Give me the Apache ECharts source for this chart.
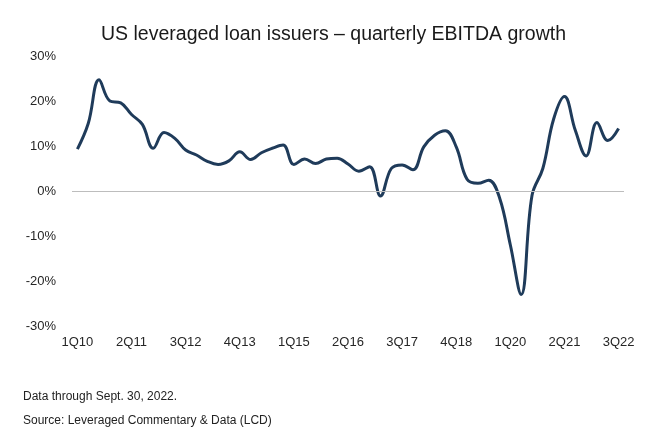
<!DOCTYPE html>
<html>
<head>
<meta charset="utf-8">
<script src="https://cdn.jsdelivr.net/npm/echarts@6/dist/echarts.min.js"></script>
<style>
html,body{margin:0;padding:0;background:#fff;}
#chart{width:667px;height:438px;}
</style>
</head>
<body>
<div id="chart"></div>
<script>
var quarters = [
  "1Q10","2Q10","3Q10","4Q10",
  "1Q11","2Q11","3Q11","4Q11",
  "1Q12","2Q12","3Q12","4Q12",
  "1Q13","2Q13","3Q13","4Q13",
  "1Q14","2Q14","3Q14","4Q14",
  "1Q15","2Q15","3Q15","4Q15",
  "1Q16","2Q16","3Q16","4Q16",
  "1Q17","2Q17","3Q17","4Q17",
  "1Q18","2Q18","3Q18","4Q18",
  "1Q19","2Q19","3Q19","4Q19",
  "1Q20","2Q20","3Q20","4Q20",
  "1Q21","2Q21","3Q21","4Q21",
  "1Q22","2Q22","3Q22"
];
var ebitdaGrowth = [
  9.3, 15, 24.7, 20,
  19.6, 17, 14.8, 9.5,
  13, 11.7, 9.1, 8,
  6.6, 5.9, 6.7, 8.7,
  7, 8.5, 9.5, 10.2,
  5.9, 7.1, 6.1, 7.1,
  7.3, 6, 4.4, 5.4,
  -1.1, 5, 5.8, 4.7,
  9.8, 12.4, 13.4, 9.8,
  2.6, 1.7, 2.4, -1.5,
  -12, -23, -1, 5,
  16, 21, 13.5, 7.8,
  15.2, 11.2, 13.9
];
var titleText = "US leveraged loan issuers \u2013 quarterly EBITDA growth";
var noteLines = ["Data through Sept. 30, 2022.", "Source: Leveraged Commentary & Data (LCD)"];

var chart = echarts.init(document.getElementById('chart'), null, {renderer: 'canvas'});
chart.setOption({
  animation: false,
  backgroundColor: '#ffffff',
  title: {
    text: titleText,
    left: 'center',
    top: 20,
    textStyle: {fontFamily: 'Liberation Sans, Arial, sans-serif', fontSize: 19.5, fontWeight: 'normal', color: '#1a1a1a'}
  },
  grid: {left: 72, right: 43, top: 56, bottom: 112},
  xAxis: {
    type: 'category',
    data: quarters,
    boundaryGap: true,
    axisLine: {show: false},
    axisTick: {show: false},
    splitLine: {show: false},
    axisLabel: {interval: 4, margin: 10, fontSize: 13, color: '#262626', fontFamily: 'Liberation Sans, Arial, sans-serif'}
  },
  yAxis: {
    type: 'value',
    min: -30, max: 30, interval: 10,
    axisLine: {show: false},
    axisTick: {show: false},
    splitLine: {show: false},
    axisLabel: {formatter: '{value}%', margin: 16, fontSize: 13, color: '#262626', fontFamily: 'Liberation Sans, Arial, sans-serif'}
  },
  series: [{
    type: 'line',
    data: ebitdaGrowth,
    smooth: 0.4,
    showSymbol: false,
    symbol: 'none',
    lineStyle: {color: '#1f3b5a', width: 3},
    markLine: {
      silent: true,
      symbol: ['none', 'none'],
      label: {show: false},
      lineStyle: {color: '#bdbdbd', width: 1, type: 'solid'},
      data: [{yAxis: 0}]
    },
    z: 3
  }],
  graphic: [
    {type: 'text', left: 23, top: 391, style: {text: noteLines[0], font: '12px "Liberation Sans", Arial, sans-serif', fill: '#222'}},
    {type: 'text', left: 23, top: 415, style: {text: noteLines[1], font: '12px "Liberation Sans", Arial, sans-serif', fill: '#222'}}
  ]
});
</script>
</body>
</html>
